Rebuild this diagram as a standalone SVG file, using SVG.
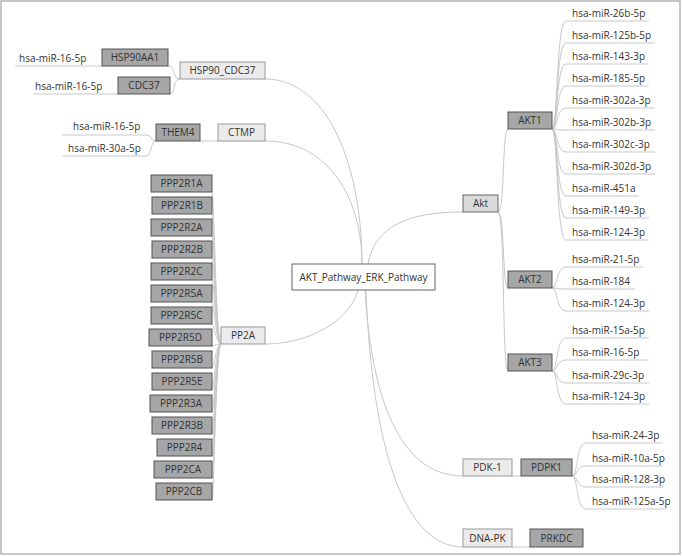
<svg xmlns="http://www.w3.org/2000/svg" width="682" height="556" viewBox="0 0 682 556">
<style>
text{font-family:"Open Sans","Noto Sans","Liberation Sans",sans-serif;font-size:10px;fill:#333}
.c{text-anchor:middle}
.dk{fill:#a6a6a6;stroke:#555;stroke-width:1}
.lt{fill:#ebebeb;stroke:#999;stroke-width:1}
.md{fill:#dadada;stroke:#666;stroke-width:1}
.ct{fill:#fff;stroke:#666;stroke-width:1}
#connectors path{fill:none;stroke:#c8c8c8;stroke-width:1}
</style>
<rect x="1" y="1" width="679" height="553" fill="#fff" stroke="#b4b4b4" stroke-width="1.5"/>
<g id="connectors">
<path d="M362,264 C362,170 330,79 265,79"/>
<path d="M362,264 C362,200 330,141 265,141"/>
<path d="M368,264 C375,225 410,212 463,212"/>
<path d="M358,290 C350,320 310,344 265,344"/>
<path d="M365,290 C372,410 405,476 463,476"/>
<path d="M366,290 C372,450 405,547 463,547"/>
<path d="M180,79 C172,79 176,66 168,66"/>
<path d="M180,79 C172,79 176,94 170,94"/>
<path d="M102,66 H15"/>
<path d="M118,94 H33"/>
<path d="M200,141 H218"/>
<path d="M156,141 C150,141 152,135 146,135 H62"/>
<path d="M156,141 C150,141 152,156 146,156 H62"/>
<path d="M221,344 C216,344 214,192 212,192"/>
<path d="M221,344 C216,344 214,214 212,214"/>
<path d="M221,344 C216,344 214,236 212,236"/>
<path d="M221,344 C216,344 214,258 212,258"/>
<path d="M221,344 C216,344 214,280 212,280"/>
<path d="M221,344 C216,344 214,302 212,302"/>
<path d="M221,344 C216,344 214,324 212,324"/>
<path d="M221,344 C216,344 214,346 212,346"/>
<path d="M221,344 C216,344 214,368 212,368"/>
<path d="M221,344 C216,344 214,390 212,390"/>
<path d="M221,344 C216,344 214,412 212,412"/>
<path d="M221,344 C216,344 214,434 212,434"/>
<path d="M221,344 C216,344 214,456 212,456"/>
<path d="M221,344 C216,344 214,478 212,478"/>
<path d="M221,344 C216,344 214,500 212,500"/>
<path d="M498,212 C505,212 502,129 508,129"/>
<path d="M498,212 C505,212 502,288 508,288"/>
<path d="M498,212 C505,212 502,371 508,371"/>
<path d="M552,129 C558,129 556,21 566,21 H649"/>
<path d="M552,129 C558,129 556,43 566,43 H655"/>
<path d="M552,129 C558,129 556,64 566,64 H649"/>
<path d="M552,129 C558,129 556,86 566,86 H649"/>
<path d="M552,129 C558,129 556,108 566,108 H655"/>
<path d="M552,129 C558,129 556,130 566,130 H655"/>
<path d="M552,129 C558,129 556,152 566,152 H655"/>
<path d="M552,129 C558,129 556,174 566,174 H655"/>
<path d="M552,129 C558,129 556,196 566,196 H639"/>
<path d="M552,129 C558,129 556,218 566,218 H649"/>
<path d="M552,129 C558,129 556,240 566,240 H649"/>
<path d="M552,288 C558,288 556,267 566,267 H643"/>
<path d="M552,288 C558,288 556,289 566,289 H635"/>
<path d="M552,288 C558,288 556,311 566,311 H649"/>
<path d="M552,371 C558,371 556,338 566,338 H649"/>
<path d="M552,371 C558,371 556,360 566,360 H649"/>
<path d="M552,371 C558,371 556,383 566,383 H649"/>
<path d="M552,371 C558,371 556,404 566,404 H649"/>
<path d="M512,476 H521"/>
<path d="M572,476 C578,476 576,443 586,443 H663"/>
<path d="M572,476 C578,476 576,466 586,466 H663"/>
<path d="M572,476 C578,476 576,487 586,487 H663"/>
<path d="M572,476 C578,476 576,509 586,509 H667"/>
<path d="M512,547 H530"/>
</g>
<g id="center"><rect class="ct" x="292" y="264" width="143" height="26"/><text class="c" x="363.5" y="280.5">AKT_Pathway_ERK_Pathway</text></g>
<g id="hsp90_cdc37"><rect class="lt" x="180" y="62" width="85" height="17"/><text class="c" x="222.5" y="74">HSP90_CDC37</text></g>
<g id="hsp90aa1"><rect class="dk" x="102" y="49" width="66" height="17"/><text class="c" x="135" y="61">HSP90AA1</text></g>
<g id="cdc37"><rect class="dk" x="118" y="77" width="52" height="17"/><text class="c" x="144" y="89">CDC37</text></g>
<g id="hsp90aa1_mir"><text x="19" y="62">hsa-miR-16-5p</text></g>
<g id="cdc37_mir"><text x="35" y="90">hsa-miR-16-5p</text></g>
<g id="ctmp"><rect class="lt" x="218" y="124" width="47" height="17"/><text class="c" x="241.5" y="136">CTMP</text></g>
<g id="them4"><rect class="dk" x="156" y="124" width="44" height="17"/><text class="c" x="178" y="136">THEM4</text></g>
<g id="them4_mir1"><text x="73" y="130">hsa-miR-16-5p</text></g>
<g id="them4_mir2"><text x="68" y="152">hsa-miR-30a-5p</text></g>
<g id="pp2a"><rect class="lt" x="221" y="327" width="44" height="17"/><text class="c" x="243" y="339">PP2A</text></g>
<g id="ppp2r1a"><rect class="dk" x="151" y="175" width="61" height="17"/><text class="c" x="181.5" y="187">PPP2R1A</text></g>
<g id="ppp2r1b"><rect class="dk" x="152" y="197" width="60" height="17"/><text class="c" x="182" y="209">PPP2R1B</text></g>
<g id="ppp2r2a"><rect class="dk" x="151" y="219" width="61" height="17"/><text class="c" x="181.5" y="231">PPP2R2A</text></g>
<g id="ppp2r2b"><rect class="dk" x="152" y="241" width="60" height="17"/><text class="c" x="182" y="253">PPP2R2B</text></g>
<g id="ppp2r2c"><rect class="dk" x="151" y="263" width="61" height="17"/><text class="c" x="181.5" y="275">PPP2R2C</text></g>
<g id="ppp2r5a"><rect class="dk" x="151" y="285" width="61" height="17"/><text class="c" x="181.5" y="297">PPP2R5A</text></g>
<g id="ppp2r5c"><rect class="dk" x="151" y="307" width="61" height="17"/><text class="c" x="181.5" y="319">PPP2R5C</text></g>
<g id="ppp2r5d"><rect class="dk" x="149" y="329" width="63" height="17"/><text class="c" x="180.5" y="341">PPP2R5D</text></g>
<g id="ppp2r5b"><rect class="dk" x="152" y="351" width="60" height="17"/><text class="c" x="182" y="363">PPP2R5B</text></g>
<g id="ppp2r5e"><rect class="dk" x="152" y="373" width="60" height="17"/><text class="c" x="182" y="385">PPP2R5E</text></g>
<g id="ppp2r3a"><rect class="dk" x="150" y="395" width="62" height="17"/><text class="c" x="181" y="407">PPP2R3A</text></g>
<g id="ppp2r3b"><rect class="dk" x="152" y="417" width="60" height="17"/><text class="c" x="182" y="429">PPP2R3B</text></g>
<g id="ppp2r4"><rect class="dk" x="157" y="439" width="55" height="17"/><text class="c" x="184.5" y="451">PPP2R4</text></g>
<g id="ppp2ca"><rect class="dk" x="154" y="461" width="58" height="17"/><text class="c" x="183" y="473">PPP2CA</text></g>
<g id="ppp2cb"><rect class="dk" x="156" y="483" width="56" height="17"/><text class="c" x="184" y="495">PPP2CB</text></g>
<g id="akt"><rect class="md" x="463" y="195" width="35" height="17"/><text class="c" x="480.5" y="207">Akt</text></g>
<g id="akt1"><rect class="dk" x="508" y="112" width="44" height="17"/><text class="c" x="530" y="124">AKT1</text></g>
<g id="akt2"><rect class="dk" x="508" y="271" width="44" height="17"/><text class="c" x="530" y="283">AKT2</text></g>
<g id="akt3"><rect class="dk" x="508" y="354" width="44" height="17"/><text class="c" x="530" y="366">AKT3</text></g>
<g id="akt1_mirs">
<text x="572" y="16.5">hsa-miR-26b-5p</text>
<text x="572" y="38.5">hsa-miR-125b-5p</text>
<text x="572" y="59.5">hsa-miR-143-3p</text>
<text x="572" y="81.5">hsa-miR-185-5p</text>
<text x="572" y="103.5">hsa-miR-302a-3p</text>
<text x="572" y="125.5">hsa-miR-302b-3p</text>
<text x="572" y="147.5">hsa-miR-302c-3p</text>
<text x="572" y="169.5">hsa-miR-302d-3p</text>
<text x="572" y="191.5">hsa-miR-451a</text>
<text x="572" y="213.5">hsa-miR-149-3p</text>
<text x="572" y="235.5">hsa-miR-124-3p</text>
</g>
<g id="akt2_mirs">
<text x="572" y="262.5">hsa-miR-21-5p</text>
<text x="572" y="284.5">hsa-miR-184</text>
<text x="572" y="306.5">hsa-miR-124-3p</text>
</g>
<g id="akt3_mirs">
<text x="572" y="333.5">hsa-miR-15a-5p</text>
<text x="572" y="355.5">hsa-miR-16-5p</text>
<text x="572" y="378.5">hsa-miR-29c-3p</text>
<text x="572" y="399.5">hsa-miR-124-3p</text>
</g>
<g id="pdk1"><rect class="lt" x="463" y="459" width="49" height="17"/><text class="c" x="487.5" y="471">PDK-1</text></g>
<g id="pdpk1"><rect class="dk" x="521" y="459" width="51" height="17"/><text class="c" x="546.5" y="471">PDPK1</text></g>
<g id="pdpk1_mirs">
<text x="592" y="438.5">hsa-miR-24-3p</text>
<text x="592" y="461.5">hsa-miR-10a-5p</text>
<text x="592" y="482.5">hsa-miR-128-3p</text>
<text x="592" y="504.5">hsa-miR-125a-5p</text>
</g>
<g id="dnapk"><rect class="lt" x="463" y="529" width="49" height="18"/><text class="c" x="487.5" y="541.5">DNA-PK</text></g>
<g id="prkdc"><rect class="dk" x="530" y="529" width="53" height="18"/><text class="c" x="556.5" y="541.5">PRKDC</text></g>
</svg>
